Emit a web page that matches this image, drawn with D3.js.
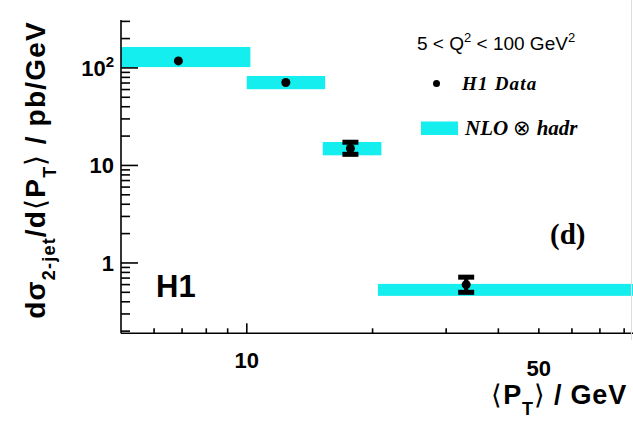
<!DOCTYPE html>
<html>
<head>
<meta charset="utf-8">
<script src="https://cdn.jsdelivr.net/npm/d3@7"></script>
<style>
  body { margin: 0; background: #fff; }
  svg { display: block; }
</style>
</head>
<body>
<script>
// bins of <PT> in GeV and the NLO x hadr band (pb/GeV)
const binLow = [5, 10, 15.2, 20.6];
const binHigh = [10.2, 15.4, 21, 84];
const nloLow = [102, 60.5, 12.7, 0.46];
const nloHigh = [164, 82.7, 17.4, 0.61];

// H1 data points
const ptVal = [6.86, 12.4, 17.7, 33.5];
const xsVal = [118, 70.8, 14.9, 0.6];
const xsLow = [114, 68.5, 13.0, 0.50];
const xsHigh = [122, 73, 17.3, 0.715];

const xLabelTicks = [10, 50];
const yLabelTicks = [1, 10, 100];

const w = 633, h = 421;
const plotL = 121, plotR = 633, plotT = 20, plotB = 333.3;
const cyan = "#14eeee";
const serif = "'Liberation Serif', 'Times New Roman', serif";

const x = d3.scaleLog().domain([5, 84]).range([plotL, plotR]);
const y = d3.scaleLog().domain([0.19, 310]).range([plotB, plotT]);

const svg = d3.select("body").append("svg").attr("width", w).attr("height", h)
  .attr("font-family", "'Liberation Sans', Arial, sans-serif");

svg.append("clipPath").attr("id", "plot")
  .append("rect").attr("x", plotL).attr("y", plotT).attr("width", plotR - plotL).attr("height", plotB - plotT);

const plot = svg.append("g").attr("clip-path", "url(#plot)");

// NLO bands
plot.selectAll("rect.nlo").data(binLow).enter().append("rect")
  .attr("class", "nlo")
  .attr("x", (d, i) => x(binLow[i]))
  .attr("width", (d, i) => x(binHigh[i]) - x(binLow[i]))
  .attr("y", (d, i) => y(nloHigh[i]))
  .attr("height", (d, i) => y(nloLow[i]) - y(nloHigh[i]))
  .attr("fill", cyan);

// error bars (only where they stick out of the marker)
ptVal.forEach((p, i) => {
  const cx = x(p), y1 = y(xsHigh[i]), y2 = y(xsLow[i]);
  if (y2 - y1 > 10) {
    plot.append("line").attr("x1", cx).attr("x2", cx).attr("y1", y1).attr("y2", y2)
      .attr("stroke", "#000").attr("stroke-width", 4);
    [y1, y2].forEach(yy => {
      plot.append("rect").attr("x", cx - 8).attr("y", yy - 2.5).attr("width", 16).attr("height", 5).attr("fill", "#000");
    });
  }
});

plot.selectAll("circle.pt").data(ptVal).enter().append("circle")
  .attr("class", "pt")
  .attr("cx", d => x(d))
  .attr("cy", (d, i) => y(xsVal[i]))
  .attr("r", 4.5)
  .attr("fill", "#000");

// axes - ticks point inward
const yTicks = y.ticks();
const isMajor = v => Math.abs(Math.log10(v) - Math.round(Math.log10(v))) < 1e-6;
const gy = svg.append("g").attr("stroke", "#000").attr("stroke-width", 1.6);
gy.append("line").attr("x1", plotL).attr("x2", plotL).attr("y1", plotT).attr("y2", plotB);
gy.selectAll("line.tk").data(yTicks.filter(v => y(v) > plotT && y(v) < plotB - 1)).enter().append("line")
  .attr("class", "tk")
  .attr("x1", plotL).attr("x2", v => plotL + (isMajor(v) ? 17 : 9))
  .attr("y1", v => y(v)).attr("y2", v => y(v));

const xTicks = x.ticks();
const gx = svg.append("g").attr("stroke", "#000").attr("stroke-width", 1.6);
gx.append("line").attr("x1", plotL).attr("x2", plotR).attr("y1", plotB).attr("y2", plotB);
gx.selectAll("line.tk").data(xTicks.filter(v => x(v) > plotL + 2 && x(v) < plotR)).enter().append("line")
  .attr("class", "tk")
  .attr("x1", v => x(v)).attr("x2", v => x(v))
  .attr("y1", plotB).attr("y2", v => plotB - (v === 10 ? 10 : 5));

// faint right border
svg.append("line").attr("x1", 631.5).attr("x2", 631.5).attr("y1", 0).attr("y2", 340)
  .attr("stroke", "#ddd").attr("stroke-width", 1);

// y tick labels
yLabelTicks.forEach(v => {
  const t = svg.append("text").attr("x", 114).attr("y", y(v) + 8)
    .attr("text-anchor", "end").attr("font-size", 22).attr("font-weight", "bold");
  if (v === 100) {
    t.append("tspan").text("10");
    t.append("tspan").attr("font-size", 15).attr("dy", -9).text("2");
  } else {
    t.text(d3.format("d")(v));
  }
});

// x tick labels (staggered as in the original)
const xLabY = [368, 376];
xLabelTicks.forEach((v, i) => {
  svg.append("text").attr("x", x(v)).attr("y", xLabY[i])
    .attr("text-anchor", "middle").attr("font-size", 22).attr("font-weight", "bold").text(v);
});

// axis titles
const xt = svg.append("text").attr("x", 627).attr("y", 404).attr("text-anchor", "end")
  .attr("font-size", 27).attr("font-weight", "bold").attr("letter-spacing", 0.8);
xt.append("tspan").attr("font-weight", "normal").text("\u27e8");
xt.append("tspan").text("P");
xt.append("tspan").attr("font-size", 18).attr("dy", 11).text("T");
xt.append("tspan").attr("dy", -11).attr("font-weight", "normal").text("\u27e9");
xt.append("tspan").text(" / GeV");

const yt = svg.append("text").attr("transform", "translate(45,170) rotate(-90)")
  .attr("text-anchor", "middle").attr("font-size", 28).attr("font-weight", "bold")
  .attr("letter-spacing", 1.2);
yt.append("tspan").text("d\u03c3");
yt.append("tspan").attr("font-size", 18).attr("dy", 10).text("2-jet");
yt.append("tspan").attr("dy", -10).text("/d");
yt.append("tspan").attr("font-weight", "normal").text("\u27e8");
yt.append("tspan").text("P");
yt.append("tspan").attr("font-size", 18).attr("dy", 11).text("T");
yt.append("tspan").attr("dy", -11).attr("font-weight", "normal").text("\u27e9");
yt.append("tspan").text(" / pb/GeV");

// legend
const lg = svg.append("text").attr("x", 417).attr("y", 50).attr("font-size", 19);
lg.append("tspan").text("5 < Q");
lg.append("tspan").attr("font-size", 13).attr("dy", -8).text("2");
lg.append("tspan").attr("dy", 8).text(" < 100 GeV");
lg.append("tspan").attr("font-size", 13).attr("dy", -8).text("2");

svg.append("circle").attr("cx", 436.5).attr("cy", 83.5).attr("r", 3.5).attr("fill", "#000");
svg.append("text").attr("x", 462).attr("y", 90).attr("font-size", 19)
  .attr("font-family", serif).attr("font-style", "italic").attr("font-weight", "bold")
  .attr("letter-spacing", 1.2)
  .text("H1 Data");

svg.append("rect").attr("x", 421).attr("y", 121.5).attr("width", 37).attr("height", 13.5).attr("fill", cyan);
const nl = svg.append("text").attr("x", 465).attr("y", 135).attr("font-size", 21)
  .attr("font-family", serif).attr("font-style", "italic").attr("font-weight", "bold");
nl.append("tspan").text("NLO ");
nl.append("tspan").attr("font-style", "normal").attr("font-weight", "normal").text("\u2297");
nl.append("tspan").text(" hadr");

svg.append("text").attr("x", 550).attr("y", 244).attr("font-size", 29)
  .attr("font-family", serif).attr("font-weight", "bold").text("(d)");

svg.append("text").attr("x", 156).attr("y", 297).attr("font-size", 31).attr("font-weight", "bold").text("H1");
</script>
</body>
</html>
